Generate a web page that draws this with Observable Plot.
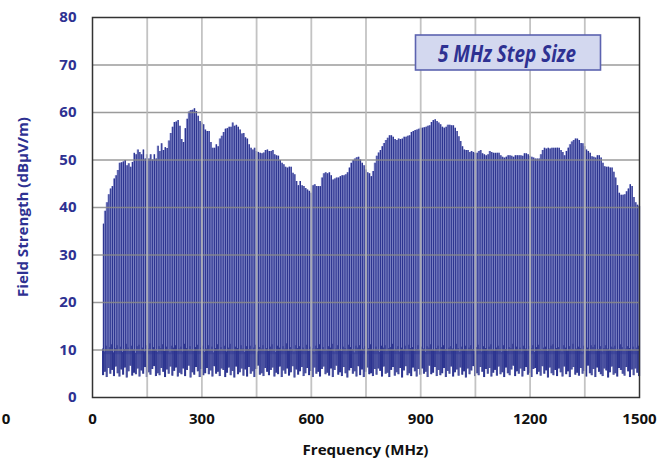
<!DOCTYPE html>
<html><head><meta charset="utf-8">
<script src="https://cdn.jsdelivr.net/npm/d3@7"></script>
<script src="https://cdn.jsdelivr.net/npm/@observablehq/plot@0.6"></script>
<style>
body{margin:0;background:#fff;}
#wrap{position:relative;width:668px;height:460px;overflow:hidden;font-family:"Open Sans",sans-serif;}
#chart{position:absolute;left:0;top:0;}
#over{position:absolute;left:0;top:0;pointer-events:none;}
</style>
</head><body>
<div id="wrap"><div id="chart"></div>
<svg id="over" width="668" height="460" font-family="Open Sans, sans-serif" font-weight="bold">
  <rect x="415.5" y="35" width="185" height="35" fill="#d3d8ef" stroke="#5c63b0" stroke-width="1.6"></rect>
  <text x="507" y="62" text-anchor="middle" font-size="23" font-style="italic" fill="#2e3192" textLength="138" lengthAdjust="spacingAndGlyphs">5 MHz Step Size</text>
  <text x="365.5" y="455" text-anchor="middle" font-size="14.5" fill="#111" textLength="126" lengthAdjust="spacingAndGlyphs">Frequency (MHz)</text>
  <text transform="translate(22,207) rotate(-90)" text-anchor="middle" dominant-baseline="central" font-size="14" fill="#2e3192" textLength="180" lengthAdjust="spacingAndGlyphs">Field Strength (dBµV/m)</text>
  <text x="6" y="424" text-anchor="middle" font-size="15" fill="#111">0</text>
</svg>
</div>
<script>
const startMHz = 30;
const stepMHz = 5;
const peaks = [
36.5,39.2,41.0,42.7,43.9,44.4,46.0,46.7,47.8,49.3,
49.4,49.6,49.9,48.8,49.2,48.5,49.5,51.4,51.1,52.1,
51.6,51.1,52.1,50.2,51.1,50.2,51.1,50.0,51.1,50.2,
52.9,51.8,53.4,52.0,52.6,52.4,54.0,55.6,56.9,57.9,
58.0,58.3,57.1,54.3,53.7,56.6,58.6,60.1,60.4,60.5,
60.8,60.2,59.2,58.1,57.8,57.4,56.3,56.0,56.0,53.7,
52.5,52.5,53.2,52.8,54.4,55.0,55.8,56.5,56.6,56.9,
56.9,57.8,57.1,57.3,56.9,56.3,55.5,55.6,54.7,54.4,
53.2,52.5,52.1,52.5,51.8,51.6,51.4,51.3,51.5,52.0,
52.1,51.8,51.8,52.0,51.1,50.9,50.8,49.9,49.3,49.0,
48.5,48.3,48.5,48.5,47.2,46.9,45.5,44.6,45.5,44.6,
44.4,44.0,43.7,43.4,43.0,44.6,44.8,44.4,44.4,44.4,
46.2,47.1,47.3,47.1,47.3,46.7,45.8,46.0,46.2,46.2,
46.5,46.7,46.7,46.9,47.3,48.3,49.3,49.9,50.2,50.5,
50.6,50.0,49.3,48.8,47.9,47.3,47.1,46.5,47.6,49.3,
50.8,51.5,52.0,52.8,53.5,54.1,54.6,55.1,55.1,54.8,
54.3,54.1,54.4,54.3,54.4,54.8,54.8,55.0,55.1,55.8,
56.0,56.2,56.3,56.5,56.7,56.7,56.8,56.9,57.1,57.2,
57.9,58.3,58.5,58.1,57.8,57.4,56.9,56.7,56.9,57.3,
57.3,57.2,57.2,56.7,56.0,54.9,53.9,52.8,52.1,52.0,
52.0,51.6,51.8,51.6,51.4,51.4,51.8,52.0,51.3,51.1,
50.9,51.1,51.8,51.6,51.4,51.4,51.4,51.4,50.9,50.6,
50.4,50.6,50.9,50.9,50.8,50.6,50.9,50.9,50.9,50.9,
50.8,51.3,51.3,51.1,50.8,50.6,50.4,50.2,50.2,50.2,
51.1,52.0,52.5,52.3,52.5,52.3,52.5,52.5,52.5,52.5,
52.5,52.0,51.6,50.9,51.8,52.5,53.2,53.8,54.1,54.4,
54.4,54.1,53.5,53.4,52.8,52.1,51.8,51.4,50.7,50.6,
50.4,50.9,50.9,50.4,49.3,48.6,48.5,48.5,48.3,48.3,
47.4,46.2,44.6,43.0,42.6,42.6,42.7,43.3,43.9,44.8,
44.4,42.1,41.0,40.5,40.2
];
const noiseTop = [
10.2,9.6,10.8,9.9,10.5,11.1,9.4,10.3,10.9,9.8,
10.6,9.5,10.1,11.2,10.4,9.7,10.8,10.0,9.3,10.7,
11.0,9.9,10.4,9.6,10.9,10.2,11.3,9.8,10.5,10.0,
9.5,10.7,10.3,11.1,9.7,10.6,10.1,9.4,10.8,10.4,
10.9,9.8,10.2,10.6,9.6,11.2,10.3,9.9,10.7,10.1,
9.7,10.5,11.0,9.8,10.4,10.8,9.5,10.2,10.9,10.0,
10.6,9.4,10.3,11.1,9.9,10.5,10.1,10.8,9.6,10.4,
11.2,10.0,9.7,10.6,10.3,9.8,10.9,10.2,9.5,10.7,
10.1,10.8,9.9,10.4,11.0,9.6,10.5,10.2,10.9,9.8,
10.3,9.7,10.6,11.1,10.0,9.5,10.8,10.4,9.9,10.7,
10.2,11.3,9.8,10.5,10.1,9.6,10.9,10.3,10.7,9.9,
10.4,10.0,11.0,9.7,10.6,10.2,9.5,10.8,10.3,11.1,
9.8,10.5,10.1,9.9,10.7,10.4,11.2,9.6,10.2,10.9,
10.0,9.7,10.6,10.3,9.8,11.0,10.5,10.1,9.4,10.8,
10.4,10.9,9.9,10.2,10.7,9.6,10.3,11.1,10.0,9.8,
10.6,10.1,9.5,10.8,10.4,10.9,9.7,10.3,10.5,11.2,
9.9,10.2,10.7,9.6,10.4,10.0,10.8,9.8,11.0,10.3,
10.5,9.7,10.1,10.9,9.9,10.6,10.2,9.5,10.7,10.4,
11.1,10.0,9.8,10.3,10.8,9.6,10.5,10.9,10.1,9.7,
10.4,10.7,10.2,9.9,11.2,10.3,9.5,10.6,10.0,10.8,
9.8,10.4,10.9,10.1,9.7,10.5,11.0,10.2,9.6,10.7,
10.3,9.9,10.6,11.1,10.0,9.8,10.4,10.8,10.2,9.5,
10.9,10.1,9.7,10.5,10.3,11.2,9.9,10.6,10.0,10.4,
9.6,10.8,10.2,9.8,10.7,10.3,10.9,9.5,10.5,11.0,
10.1,9.9,10.4,10.6,9.7,10.2,10.8,11.1,9.8,10.3,
10.5,10.0,9.6,10.9,10.4,9.8,10.7,10.1,11.2,9.9,
10.2,10.6,10.3,9.5,10.8,10.0,10.4,9.7,10.9,10.5,
11.0,9.8,10.1,10.7,9.6,10.3,10.9,10.2,9.9,10.6,
10.4,10.8,9.7,10.0,11.1,10.5,9.8,10.2,10.7,10.3,
9.9,10.6,10.1,10.4,10.8
];
const floorLow = [
4.6,5.3,4.2,6.1,4.9,5.7,4.4,6.4,5.0,4.3,
5.8,4.7,6.2,4.1,5.4,6.6,4.5,5.1,4.8,6.0,
4.3,5.6,4.9,6.3,4.2,5.2,4.7,5.9,6.5,4.4,
5.0,4.6,6.1,5.3,4.2,5.8,4.9,6.4,4.5,5.5,
6.2,4.3,5.1,4.8,6.0,4.4,5.7,6.6,4.1,5.2,
4.7,6.3,5.4,4.2,5.9,4.6,5.0,6.1,4.8,5.6,
4.3,6.5,4.9,5.3,4.4,6.0,5.7,4.2,5.1,6.2,
4.6,5.5,4.1,6.4,4.8,5.2,6.0,4.5,5.8,4.3,
6.3,4.9,5.4,4.2,5.9,6.6,4.7,5.0,4.4,6.1,
5.3,4.6,5.7,6.2,4.3,5.1,4.8,6.4,4.2,5.6,
4.9,6.0,4.5,5.2,6.5,4.1,5.8,4.7,5.4,6.3,
4.4,5.0,6.1,4.6,5.5,4.2,6.2,4.9,5.3,4.3,
5.9,6.4,4.8,5.1,4.5,6.0,4.2,5.7,6.6,4.7,
5.2,4.4,6.3,5.0,4.1,5.6,6.1,4.9,5.4,4.3,
6.5,4.6,5.8,4.2,5.3,6.2,4.8,5.0,4.4,5.9,
4.7,6.0,5.5,4.3,6.4,4.9,5.1,4.2,5.7,6.3,
4.5,5.2,4.8,6.1,4.1,5.6,6.5,4.6,5.0,4.4,
6.2,5.4,4.3,5.9,4.7,6.0,4.9,5.3,4.2,6.6,
4.8,5.1,6.3,4.4,5.7,4.6,5.0,6.1,4.2,5.5,
4.9,6.4,4.3,5.2,5.8,4.5,6.2,4.7,5.4,4.1,
6.0,4.8,5.6,6.5,4.4,5.0,4.6,6.3,5.3,4.2,
5.9,4.9,6.1,4.3,5.1,5.7,4.5,6.4,4.8,5.2,
4.2,6.2,5.0,4.6,5.8,6.6,4.4,5.4,4.9,6.0,
4.3,5.5,6.3,4.7,5.1,4.2,5.9,6.1,4.8,5.3,
4.5,6.5,4.9,5.6,4.1,6.2,5.0,4.6,5.7,4.4,
6.0,5.2,4.3,6.4,4.8,5.4,4.2,5.8,6.3,4.7,
5.1,4.5,6.1,4.9,5.5,4.3,6.6,5.0,4.6,5.9,
4.2,6.2,5.3,4.8,4.4,6.0,5.6,4.1,5.2,6.4,
4.7,5.0,4.3,6.1,5.7,4.9,4.5,6.3,5.4,4.2,
5.8,4.6,6.0,5.1,4.4
];
const xTicks = [0, 300, 600, 900, 1200, 1500];
const xGridLines = [150, 300, 450, 600, 750, 900, 1050, 1200, 1350];
const yTicks = [0, 10, 20, 30, 40, 50, 60, 70, 80];
const yGridLines = [10, 20, 30, 40, 50, 60, 70];

const data = peaks.map((p, i) => ({f: startMHz + i * stepMHz, peak: p, top: noiseTop[i], low: floorLow[i]}));
const dark = "#2d3590";

const chart = Plot.plot({
  width: 668, height: 460,
  marginLeft: 92, marginRight: 29, marginTop: 17, marginBottom: 63,
  x: {domain: [0, 1500]},
  y: {domain: [0, 80]},
  style: {fontFamily: "Open Sans, sans-serif", background: "#fff"},
  marks: [
    Plot.areaY(data, {x: "f", y1: 9, y2: "peak", curve: "step", fill: "#a9aee0"}),
    Plot.ruleX(data, {x: "f", y1: "low", y2: "peak", stroke: dark, strokeWidth: 1.25}),
    Plot.ruleX(data, {x: d => d.f - 2.5, y1: "low", y2: "top", stroke: dark, strokeWidth: 1.0}),
    Plot.ruleY(yGridLines, {stroke: "#8a8a8a", strokeWidth: 1.6, strokeOpacity: 0.85}),
    Plot.ruleX(xGridLines, {stroke: "#b8b8b8", strokeWidth: 1.8, strokeOpacity: 0.85}),
    Plot.frame({stroke: "#333", strokeWidth: 1.5}),
    Plot.axisX(xTicks, {tickSize: 0, tickPadding: 16, fontSize: 15, fontWeight: "bold", fill: "#111", label: null, tickFormat: d3.format("d")}),
    Plot.axisY(yTicks, {tickSize: 0, tickPadding: 16, fontSize: 15, fontWeight: "bold", fill: "#2e3192", label: null, tickFormat: d3.format("d")})
  ]
});
document.getElementById("chart").appendChild(chart);
</script>
</body></html>
